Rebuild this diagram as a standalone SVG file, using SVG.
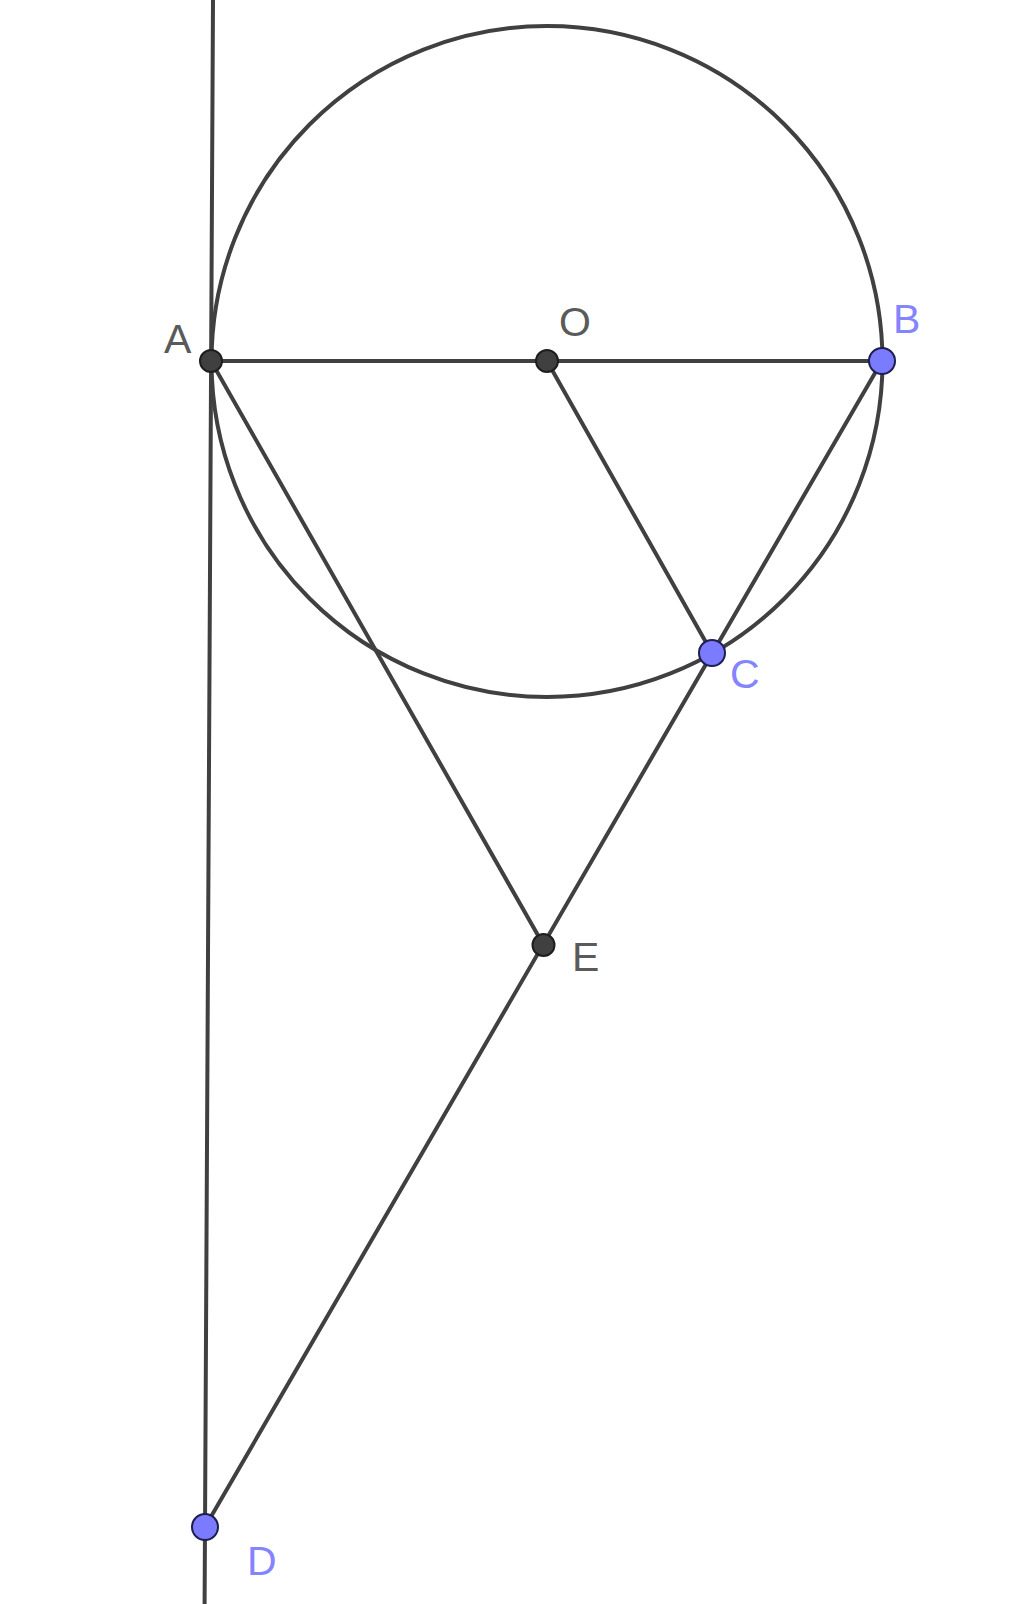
<svg xmlns="http://www.w3.org/2000/svg" width="1024" height="1604" viewBox="0 0 1024 1604">
<style>
.ln{stroke:#404040;stroke-width:4;fill:none;stroke-linecap:round}
.pd{fill:#404040;stroke:#1e1e1e;stroke-width:2}
.pb{fill:#7b7bff;stroke:#1e1e50;stroke-width:2}
.lbd{font-family:"Liberation Sans",Arial,sans-serif;font-size:41px;fill:#5a5a5a}
.lbb{font-family:"Liberation Sans",Arial,sans-serif;font-size:41px;fill:#8484ff}
</style>
<rect width="1024" height="1604" fill="#ffffff"/>
<g id="connectors">
<circle class="ln" cx="547" cy="361.5" r="335.5"/>
<line class="ln" x1="213" y1="0" x2="204.6" y2="1604"/>
<line class="ln" x1="211" y1="361" x2="882" y2="361"/>
<line class="ln" x1="547" y1="361" x2="712" y2="653"/>
<line class="ln" x1="211" y1="361" x2="543.5" y2="945"/>
<line class="ln" x1="882" y1="361" x2="205" y2="1527"/>
</g>
<g id="A"><circle class="pd" cx="211" cy="361" r="11"/><text class="lbd" x="164" y="353">A</text></g>
<g id="O"><circle class="pd" cx="547" cy="361" r="11"/><text class="lbd" x="559" y="336">O</text></g>
<g id="B"><circle class="pb" cx="882" cy="361" r="13"/><text class="lbb" x="893" y="333">B</text></g>
<g id="C"><circle class="pb" cx="712" cy="653" r="13"/><text class="lbb" x="730" y="688">C</text></g>
<g id="E"><circle class="pd" cx="543.5" cy="945" r="11"/><text class="lbd" x="572" y="971">E</text></g>
<g id="D"><circle class="pb" cx="205" cy="1527" r="13"/><text class="lbb" x="247" y="1575">D</text></g>
</svg>
